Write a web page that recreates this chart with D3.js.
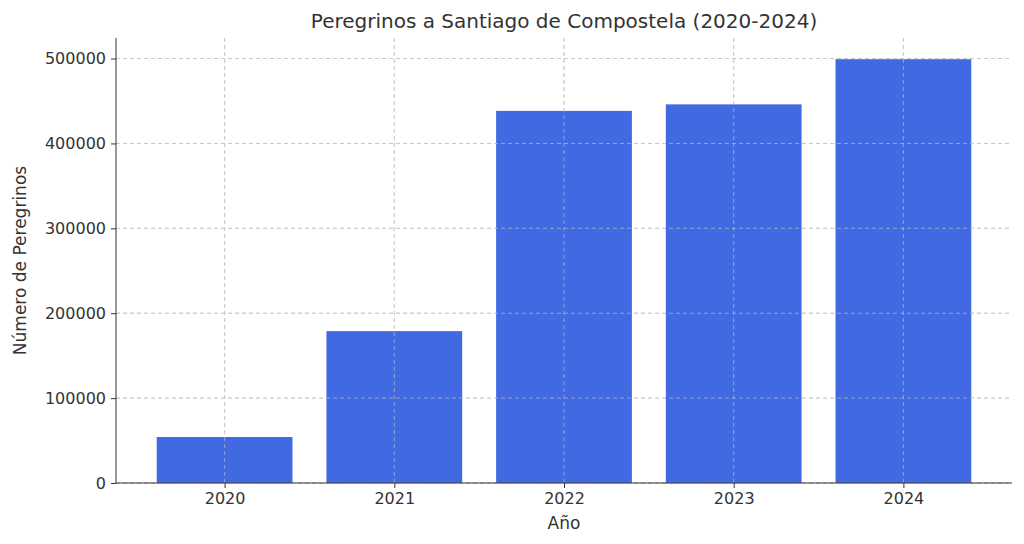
<!DOCTYPE html>
<html>
<head>
<meta charset="utf-8">
<script src="https://cdn.jsdelivr.net/npm/d3@7"></script>
<style>
  body { margin: 0; background: #fff; }
  text { font-family: "DejaVu Sans", sans-serif; fill: #333; }
</style>
</head>
<body>
<svg id="chart" width="1024" height="544"></svg>
<script>
const years = ["2020", "2021", "2022", "2023", "2024"]
const pilgrims = [54144, 178912, 438323, 446035, 499239]
const yTicks = [0, 100000, 200000, 300000, 400000, 500000]

const margin = { left: 116, top: 38, right: 12, bottom: 61 }
const width = 1024 - margin.left - margin.right
const height = 544 - margin.top - margin.bottom

const svg = d3.select("#chart")
const g = svg.append("g").attr("transform", `translate(${margin.left},${margin.top})`)

//matplotlib-like continuous x positions
const x = d3.scaleLinear().domain([-0.64, 4.64]).range([0, width])
const y = d3.scaleLinear().domain([0, d3.max(pilgrims) * 1.05]).range([height, 0])
const barW = x(0.8) - x(0)

//grid
g.selectAll(".gy").data(yTicks).join("line")
    .attr("x1", 0).attr("x2", width)
    .attr("y1", d => y(d)).attr("y2", d => y(d))
    .attr("stroke", "#ccc").attr("stroke-dasharray", "4,3")
g.selectAll(".gx").data(years).join("line")
    .attr("x1", (d, i) => x(i)).attr("x2", (d, i) => x(i))
    .attr("y1", 0).attr("y2", height)
    .attr("stroke", "#ccc").attr("stroke-dasharray", "4,3")

//bars
g.selectAll(".bar").data(pilgrims).join("rect")
    .attr("x", (d, i) => x(i) - barW / 2)
    .attr("width", barW)
    .attr("y", d => y(d))
    .attr("height", d => height - y(d))
    .attr("fill", "#4169e1")

//grid over bars like the reference
g.selectAll(".gx2").data(years).join("line")
    .attr("x1", (d, i) => x(i)).attr("x2", (d, i) => x(i))
    .attr("y1", d => 0).attr("y2", height)
    .attr("stroke", "rgba(200,200,200,0.6)").attr("stroke-dasharray", "4,3")
g.selectAll(".gy2").data(yTicks).join("line")
    .attr("x1", 0).attr("x2", width)
    .attr("y1", d => y(d)).attr("y2", d => y(d))
    .attr("stroke", "rgba(200,200,200,0.6)").attr("stroke-dasharray", "4,3")

//axes
const yAxis = g.append("g").call(d3.axisLeft(y).tickValues(yTicks).tickFormat(d3.format("d")).tickSize(5).tickPadding(5))
const xAxis = g.append("g").attr("transform", `translate(0,${height})`)
    .call(d3.axisBottom(x).tickValues(d3.range(years.length)).tickFormat(i => years[i]).tickSize(5).tickPadding(5))
;[xAxis, yAxis].forEach(a => {
    a.selectAll("text").style("font-size", "16px").attr("fill", "#333")
    a.selectAll("line").attr("stroke", "#333")
    a.select(".domain").attr("stroke", "#333")
    a.select(".domain").attr("d", a === xAxis ? `M0,0H${width}` : `M0,${height}V0`)
})

//labels
svg.append("text").attr("x", margin.left + width / 2).attr("y", 28)
    .attr("text-anchor", "middle").style("font-size", "20px").text("Peregrinos a Santiago de Compostela (2020-2024)")
svg.append("text").attr("x", margin.left + width / 2).attr("y", 529)
    .attr("text-anchor", "middle").style("font-size", "17px").text("Año")
svg.append("text").attr("transform", `translate(26,${margin.top + height / 2}) rotate(-90)`)
    .attr("text-anchor", "middle").style("font-size", "17px").text("Número de Peregrinos")
</script>
</body>
</html>
